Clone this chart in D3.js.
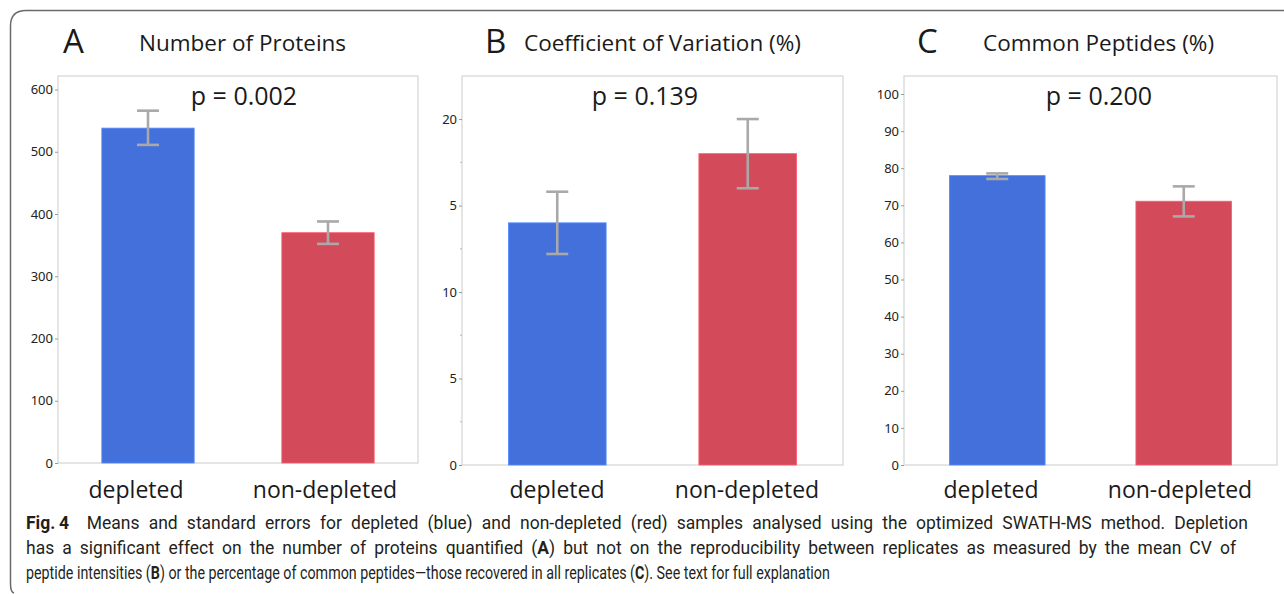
<!DOCTYPE html>
<meta charset="utf-8">
<style>
  body { margin: 0; background: #fff; }
  text { fill: #1a1a1a; }
  .ttl { font-family: "Open Sans", "Noto Sans", sans-serif; }
  .tick text { font-family: "Noto Sans", "Open Sans", sans-serif; font-size: 13px; fill: #222; }
  .tick line { stroke: #999; }
  .domain { display: none; }
  .cap { font-family: "Roboto", "Liberation Sans", sans-serif; font-size: 17.5px; fill: #231f20; }
</style>
<body>
<script src="https://cdn.jsdelivr.net/npm/d3@7"></script>
<script>
// data
var groups = ["depleted", "non-depleted"];
var colors = ["#4470db", "#d34b5a"];

var proteinsMean = [538, 370];
var proteinsLow = [511, 352];
var proteinsHigh = [566, 388];
var proteinsTicks = [0, 100, 200, 300, 400, 500, 600];

var cvMean = [14.0, 18.0];
var cvLow = [12.2, 16.0];
var cvHigh = [15.8, 20.0];
var cvTicks = [0, 5, 10, 15, 20];
var cvTickLabels = ["0", "5", "10", "5", "20"]; // as printed (the "1" of 15 is cut off)
var cvMinor = [2.5, 7.5, 12.5, 17.5];

var commonMean = [78.0, 71.1];
var commonLow = [77.1, 67.0];
var commonHigh = [78.6, 75.1];
var commonTicks = [0, 10, 20, 30, 40, 50, 60, 70, 80, 90, 100];

var panels = [
  {letter: "A", title: "Number of Proteins", p: "p = 0.002", mean: proteinsMean, lo: proteinsLow, hi: proteinsHigh,
   ticks: proteinsTicks, labels: null, minor: [], x0: 58, x1: 418, top: 76, bottom: 463, max: 621.7,
   letterX: 63, titleX: 139, pX: 244, catX: [136, 325]},
  {letter: "B", title: "Coefficient of Variation (%)", p: "p = 0.139", mean: cvMean, lo: cvLow, hi: cvHigh,
   ticks: cvTicks, labels: cvTickLabels, minor: cvMinor, x0: 462, x1: 843, top: 76, bottom: 465, max: 22.49,
   letterX: 485, titleX: 524, pX: 645, catX: [557, 747]},
  {letter: "C", title: "Common Peptides (%)", p: "p = 0.200", mean: commonMean, lo: commonLow, hi: commonHigh,
   ticks: commonTicks, labels: null, minor: [], x0: 904, x1: 1277, top: 76, bottom: 465, max: 104.85,
   letterX: 917, titleX: 983, pX: 1099, catX: [991, 1180]}
];

var svg = d3.select("body").append("svg")
    .attr("width", 1284)
    .attr("height", 594);

// outer frame
svg.append("path")
    .attr("d", "M1284,10.5 H26 Q10.5,10.5 10.5,26 V584 Q10.5,592 14,593")
    .attr("fill", "none")
    .attr("stroke", "#6a6a6a")
    .attr("stroke-width", 1.5);

panels.forEach(function(pn) {
  var x = d3.scaleBand().domain(groups).range([pn.x0, pn.x1]).paddingInner(0.487).paddingOuter(0.2435);
  var y = d3.scaleLinear().domain([0, pn.max]).range([pn.bottom, pn.top]);
  var g = svg.append("g");

  // header
  g.append("text").attr("class", "ttl").attr("x", pn.letterX).attr("y", 53)
      .style("font-size", "33px").text(pn.letter);
  g.append("text").attr("class", "ttl").attr("x", pn.titleX).attr("y", 51)
      .style("font-size", "22.5px").text(pn.title);

  // plot frame
  g.append("rect")
      .attr("x", pn.x0).attr("y", pn.top)
      .attr("width", pn.x1 - pn.x0).attr("height", pn.bottom - pn.top)
      .attr("fill", "none").attr("stroke", "#d4d4d4").attr("stroke-width", 1.2);

  // y axis
  var ax = d3.axisLeft(y).tickValues(pn.ticks).tickSize(3).tickPadding(2);
  if (pn.labels) ax.tickFormat(function(d, i) { return pn.labels[i]; });
  g.append("g").attr("transform", "translate(" + pn.x0 + ",0)").call(ax);
  g.selectAll(".minor").data(pn.minor).enter().append("line")
      .attr("x1", pn.x0 - 2).attr("x2", pn.x0)
      .attr("y1", function(d) { return y(d); }).attr("y2", function(d) { return y(d); })
      .attr("stroke", "#bbb");

  // bars
  g.selectAll(".bar").data(groups).enter().append("rect")
      .attr("x", function(d) { return x(d); })
      .attr("width", x.bandwidth())
      .attr("y", function(d, i) { return y(pn.mean[i]); })
      .attr("height", function(d, i) { return y(0) - y(pn.mean[i]); })
      .attr("fill", function(d, i) { return colors[i]; })
      .attr("stroke", function(d, i) { return d3.color(colors[i]).brighter(0.6); })
      .attr("stroke-width", 0.8);

  // error bars
  var eb = g.selectAll(".eb").data(groups).enter().append("g")
      .attr("stroke", "#a9a9a9").attr("stroke-width", 2.6);
  var cx = function(d) { return x(d) + x.bandwidth() / 2; };
  eb.append("line")
      .attr("x1", cx).attr("x2", cx)
      .attr("y1", function(d, i) { return y(pn.lo[i]); })
      .attr("y2", function(d, i) { return y(pn.hi[i]); });
  [pn.lo, pn.hi].forEach(function(arr) {
    eb.append("line")
        .attr("x1", function(d) { return cx(d) - 11; })
        .attr("x2", function(d) { return cx(d) + 11; })
        .attr("y1", function(d, i) { return y(arr[i]); })
        .attr("y2", function(d, i) { return y(arr[i]); });
  });

  // p value
  g.append("text").attr("class", "ttl").attr("x", pn.pX).attr("y", 105)
      .attr("text-anchor", "middle").style("font-size", "25px").text(pn.p);

  // category labels
  g.selectAll(".cat").data(groups).enter().append("text")
      .attr("class", "ttl")
      .attr("x", function(d, i) { return pn.catX[i]; }).attr("y", 498)
      .attr("text-anchor", "middle")
      .style("font-size", "23px")
      .text(function(d) { return d; });
});

// caption
var captionLines = [
  [["Fig.\u20094", true], ["\u2003Means and standard errors for depleted (blue) and non-depleted (red) samples analysed using the optimized SWATH-MS method. Depletion", false]],
  [["has a significant effect on the number of proteins quantified (", false], ["A", true], [") but not on the reproducibility between replicates as measured by the mean CV of", false]],
  [["peptide intensities (", false], ["B", true], [") or the percentage of common peptides\u2014those recovered in all replicates (", false], ["C", true], ["). See text for full explanation", false]]
];
var captionWidths = [1222, 1211, 804];

var capTexts = captionLines.map(function(line, i) {
  var t = svg.append("text").attr("class", "cap")
      .attr("x", 0).attr("y", 0)
      .attr("xml:space", "preserve");
  line.forEach(function(part) {
    t.append("tspan").attr("font-weight", part[1] ? "bold" : null).text(part[0]);
  });
  return t;
});

// last line is set at natural width: it gives the condensing factor;
// justified lines get wider glyphs plus a little extra word spacing
var s = captionWidths[2] / capTexts[2].node().getComputedTextLength();
var sJust = Math.min(1, s * 1.28);

capTexts.forEach(function(t, i) {
  if (i < 2) {
    var w = t.node().getComputedTextLength();
    var spaces = t.text().split(" ").length - 1;
    var extra = Math.max(0, (captionWidths[i] / sJust - w) / spaces);
    t.style("word-spacing", extra + "px");
  }
  var w2 = t.node().getComputedTextLength();
  t.attr("transform", "translate(26," + (529 + i * 25) + ") scale(" + (captionWidths[i] / w2) + ",1)");
});
</script>
</body>
